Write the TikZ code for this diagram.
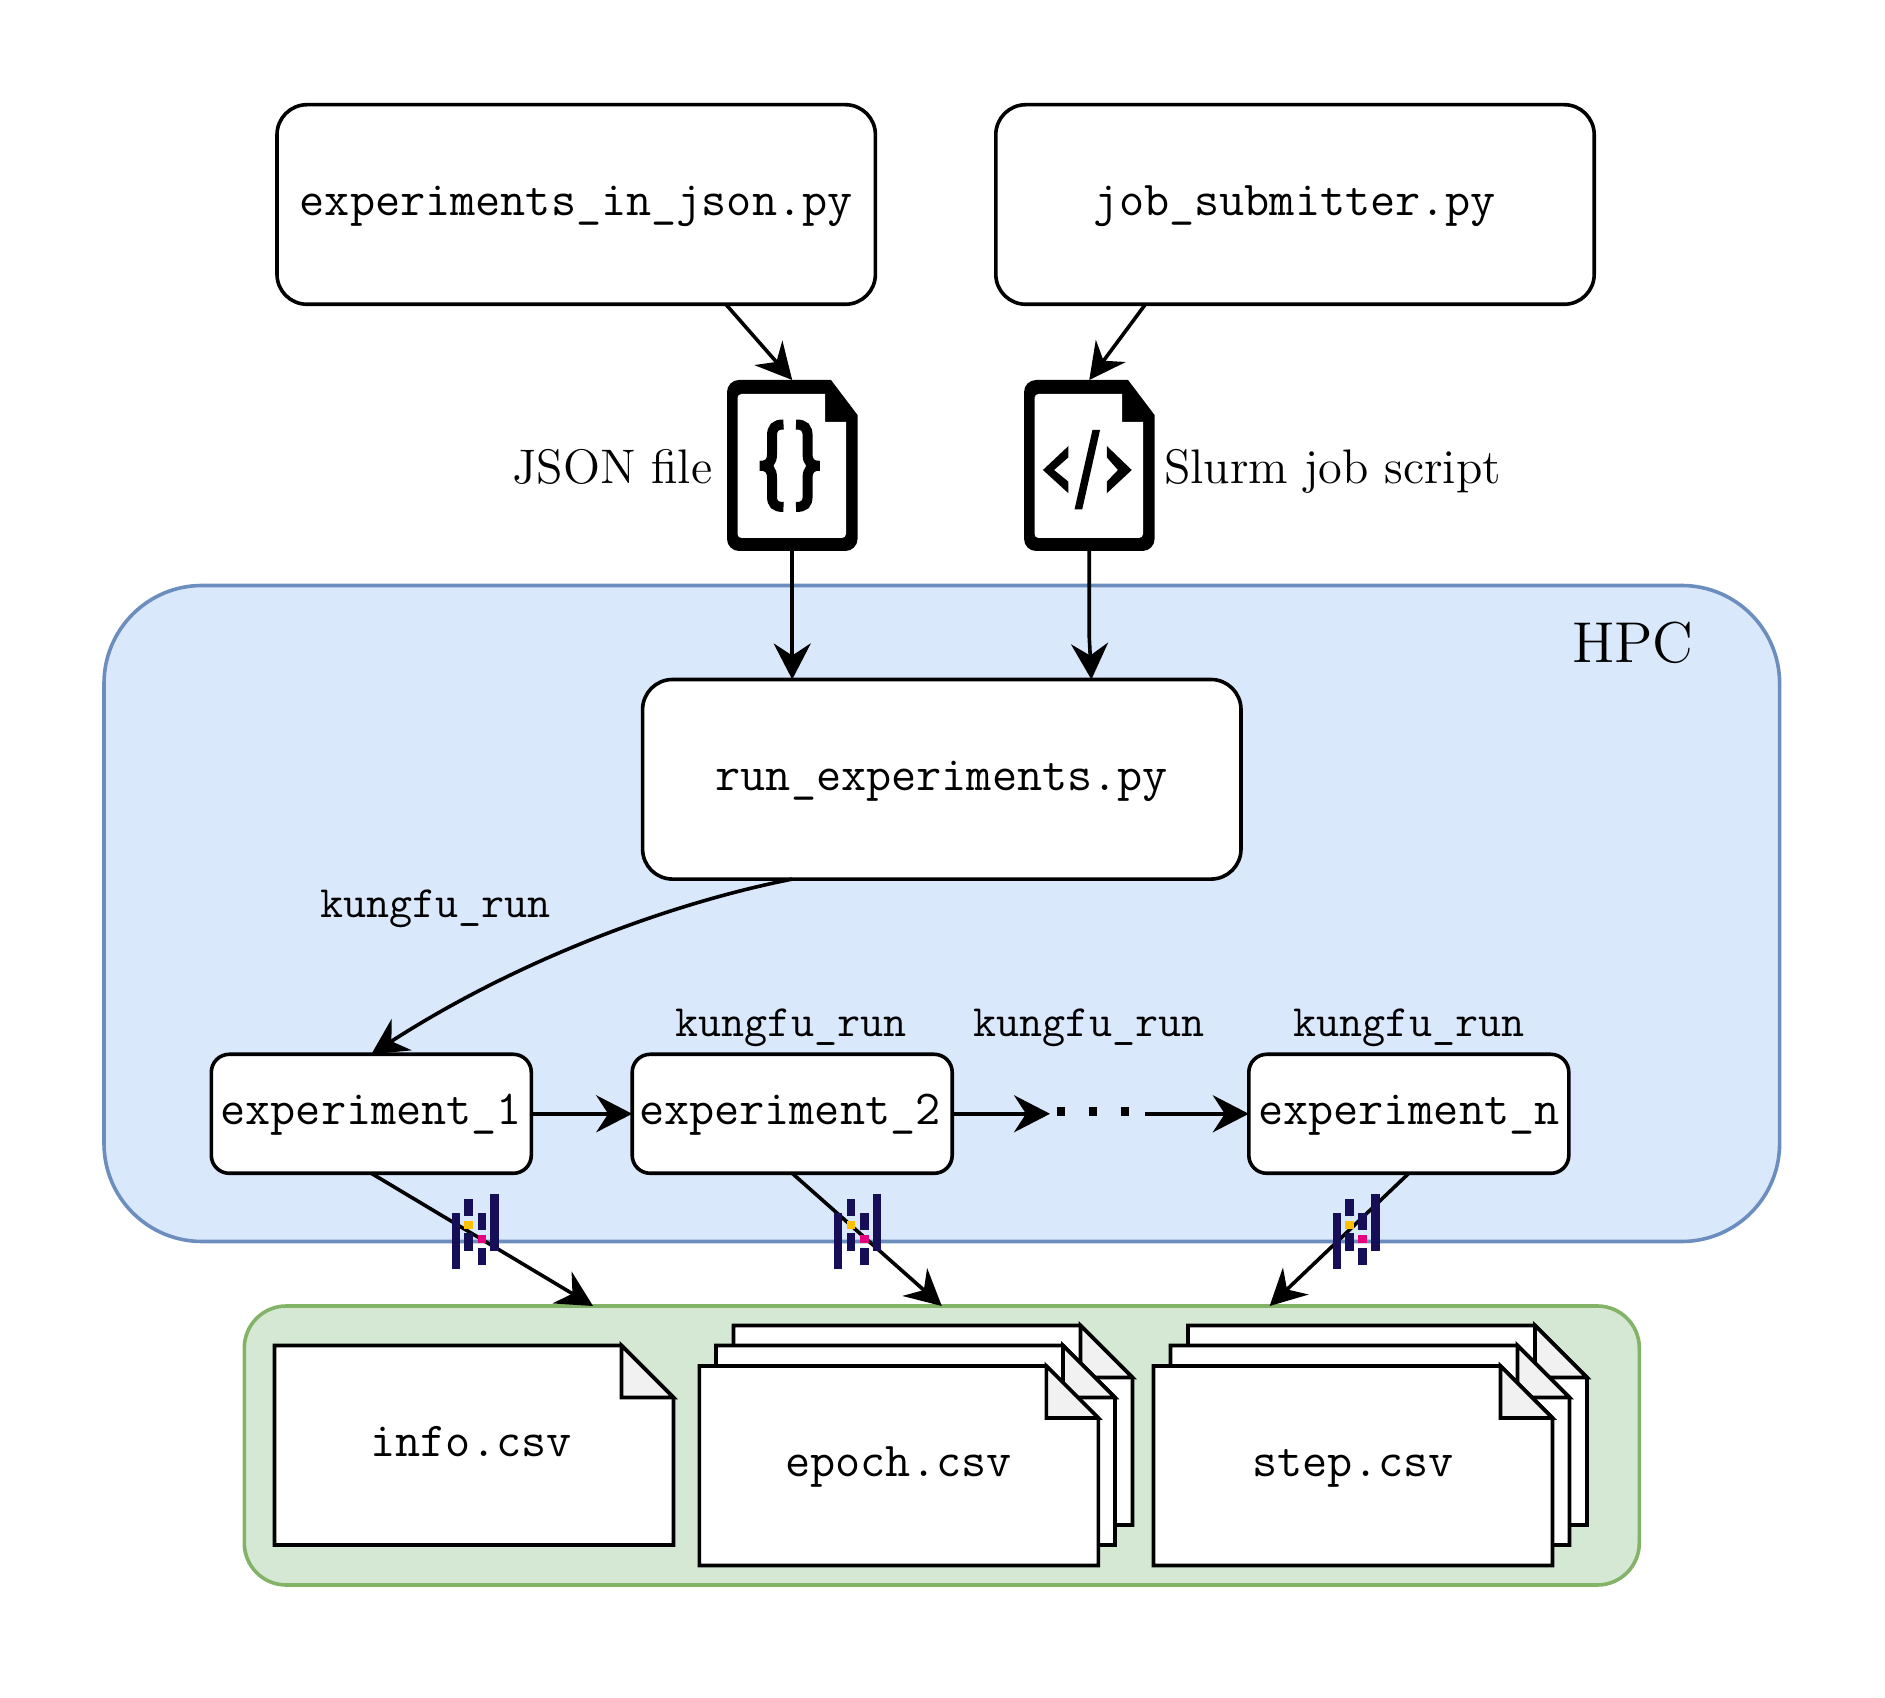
\documentclass[tikz,border=0pt]{standalone}
\usepackage{xcolor}
\usetikzlibrary{arrows.meta, calc, positioning}
\definecolor{hpcfill}{HTML}{DAE8FC}
\definecolor{hpcline}{HTML}{6C8EBF}
\definecolor{csvfill}{HTML}{D5E8D4}
\definecolor{csvline}{HTML}{82B366}
\definecolor{foldgray}{HTML}{F1F1F1}
\definecolor{kfnavy}{HTML}{160F57}
\definecolor{kfyellow}{HTML}{FFC000}
\definecolor{kfpink}{HTML}{E6007E}
\tikzset{
  arr/.style={-{Stealth[length=9pt,width=9.25pt,inset=3pt]},line width=0.9},
  pybox/.style={draw=black,fill=white,line width=0.9,rounded corners=7.5pt,inner sep=0,outer sep=0,
    minimum width=149.6pt,minimum height=49.9pt,font=\fontsize{12.2}{14}\selectfont\ttfamily,
    text height=7.8pt,text depth=2.2pt},
  expbox/.style={draw=black,fill=white,line width=0.9,rounded corners=4.5pt,inner sep=0,outer sep=0,
    minimum width=80pt,minimum height=29.75pt,font=\fontsize{12.2}{14}\selectfont\ttfamily,
    text height=7.8pt,text depth=2.2pt},
  iconbox/.style={inner sep=0,outer sep=0,minimum width=32.6pt,minimum height=42.75pt},
  runlabel/.style={font=\fontsize{11.2}{13}\selectfont\ttfamily,text height=6pt,text depth=2.75pt},
  filetext/.style={font=\fontsize{12.2}{14}\selectfont\ttfamily,text height=8pt,text depth=2pt},
  plainlabel/.style={font=\fontsize{12.13}{14}\selectfont,inner sep=0,text height=9pt,text depth=0.2pt},
  csvnote/.pic={
    \draw[fill=white,line width=0.9] (0,0) -- (347,0) -- (399,52) -- (399,199.5) -- (0,199.5) -- cycle;
    \draw[fill=foldgray,line width=0.9] (347,0) -- (399,52) -- (347,52) -- cycle;
  },
  jsonicon/.pic={
    \fill[rounded corners=3pt] (0,85) -- (0,0) [sharp corners] -- (104,0) -- (130.5,35) [rounded corners=3pt] -- (130.5,171) -- (0,171) -- cycle;
    \fill[white,rounded corners=1pt] (10.5,85) -- (10.5,14) [sharp corners] -- (98,14) -- (98,42) -- (119,42) [rounded corners=1pt] -- (119,158) -- (10.5,158) -- cycle;
  },
  kflogo/.pic={
    \fill[kfnavy] (0,18.7) rectangle (7.8,75.3);
    \fill[kfnavy] (12.5,4.7) rectangle (21,21.7);
    \fill[kfyellow] (12.5,26.7) rectangle (21,35);
    \fill[kfnavy] (12.5,39.3) rectangle (21,56.7);
    \fill[kfnavy] (25.7,18.7) rectangle (34.2,35.7);
    \fill[kfpink] (25.7,41) rectangle (34.2,49);
    \fill[kfnavy] (25.7,54) rectangle (34.2,71);
    \fill[kfnavy] (38.6,0) rectangle (46.8,56.7);
  }
}

\begin{document}
\begin{tikzpicture}[x=0.25pt,y=-0.25pt]
  \useasboundingbox (0,0) rectangle (1885,1698);
  % backgrounds
  \node[draw=hpcline,fill=hpcfill,line width=0.9,rounded corners=24.5pt,inner sep=0,outer sep=0,
    minimum width=418.9pt,minimum height=164pt] (hpc) at (941.8,913.5) {};
  \node[draw=csvline,fill=csvfill,line width=0.9,rounded corners=10.5pt,inner sep=0,outer sep=0,
    minimum width=348.75pt,minimum height=69.75pt] (csvbox) at (941.8,1445.5) {};
  \node[font=\fontsize{14.4}{16}\selectfont] (hpclabel) at (1633,643) {HPC};

  % scripts
  \node[pybox] (jsongen) at (576.2,204.5) {experiments\_in\_json.py};
  \node[pybox] (submitter) at (1295,204.5) {job\_submitter.py};
  \node[pybox] (runner) at (941.8,779.3) {run\_experiments.py};

  % icons
  \node[iconbox] (jsonfile) at (792.2,465.5) {};
  \node[iconbox] (slurmfile) at (1089.25,465.5) {};
  \pic at (jsonfile.north west) {jsonicon};
  \pic at (slurmfile.north west) {jsonicon};
  \begin{scope}[shift={(jsonfile.north west)}]
    \draw[line width=2.5pt] (56.5,44.5) .. controls (48,44.5) and (45,48) .. (45,56) -- (45,74) .. controls (45,82) and (42,85.8) .. (33,85.8) .. controls (42,85.8) and (45,90) .. (45,98) -- (45,116) .. controls (45,124) and (48,127) .. (56.5,127);
    \draw[line width=2.5pt] (69,44.5) .. controls (77.6,44.5) and (80.6,48) .. (80.6,56) -- (80.6,74) .. controls (80.6,82) and (83.6,85.8) .. (92.6,85.8) .. controls (83.6,85.8) and (80.6,90) .. (80.6,98) -- (80.6,116) .. controls (80.6,124) and (77.6,127) .. (69,127);
  \end{scope}
  \begin{scope}[shift={(slurmfile.north west)}]
    \fill (44.4,66) -- (18.9,90) -- (44.4,113.3) -- (44.4,101.7) -- (30,90) -- (44.4,77.3) -- cycle;
    \fill (82.7,66) -- (107.7,90) -- (82.7,113.3) -- (82.7,101.7) -- (93.9,90) -- (82.7,77.3) -- cycle;
    \fill (68.4,50) -- (76,50) -- (58.2,129.3) -- (50.5,129.3) -- cycle;
  \end{scope}
  \node[plainlabel,left=3.5pt of jsonfile] (jsonlabel) {JSON file};
  \node[plainlabel,right=2.25pt of slurmfile] (slurmlabel) {Slurm job script};

  % experiments
  \node[expbox] (exp1) at (371.3,1113.8) {experiment\_1};
  \node[expbox] (exp2) at (792.2,1113.8) {experiment\_2\kern1.2pt};
  \node[expbox] (expn) at (1408.8,1113.8) {experiment\_n};
  \node[inner sep=0,outer sep=0,minimum width=23.75pt,minimum height=4pt] (dots) at (1097.5,1113.8) {};
  \foreach \dotx in {1061,1093,1125}
    \fill (\dotx-4,1107) rectangle (\dotx+4,1116);
  \node[runlabel] (kf1) at (435.5,911) {kungfu\_run};
  \node[runlabel] (kf2) at (791,1030) {kungfu\_run};
  \node[runlabel] (kf3) at (1089,1030) {kungfu\_run};
  \node[runlabel] (kfn) at (1409,1030) {kungfu\_run};

  % csv files
  \pic at (274.5,1345.5) {csvnote};
  \pic at (733.5,1325.5) {csvnote};
  \pic at (716,1345.5) {csvnote};
  \pic at (699.3,1366) {csvnote};
  \pic at (1188,1325.5) {csvnote};
  \pic at (1170.5,1345.5) {csvnote};
  \pic at (1153.5,1366) {csvnote};
  \node[filetext] (infocsv) at (471,1444.6) {info.csv};
  \node[filetext] (epochcsv) at (898.5,1464.2) {epoch.csv};
  \node[filetext] (stepcsv) at (1353,1464.2) {step.csv};

  % connectors
  \coordinate (slurmbend) at (1089.25,637);
  \draw[arr] ($(jsongen.south west)!.75!(jsongen.south east)$) -- (jsonfile.north);
  \draw[arr] ($(submitter.south west)!.25!(submitter.south east)$) -- (slurmfile.north);
  \draw[arr] (jsonfile.south) -- ($(runner.north west)!.25!(runner.north east)$);
  \draw[arr] (slurmfile.south) -- (slurmbend) -- ($(runner.north west)!.75!(runner.north east)$);
  \draw[arr] ($(runner.south west)!.25!(runner.south east)$) .. controls (662,905) and (511,964) .. (exp1.north);
  \draw[arr] (exp1.east) -- (exp2.west);
  \draw[arr] (exp2.east) -- (dots.west);
  \draw[arr] (dots.east) -- (expn.west);
  \draw[arr] (exp1.south) -- ($(csvbox.north west)!.25!(csvbox.north east)$);
  \draw[arr] (exp2.south) -- (csvbox.north);
  \draw[arr] (expn.south) -- ($(csvbox.north west)!.735!(csvbox.north east)$);

  % kungfu logos
  \pic at (451.8,1194) {kflogo};
  \pic at (834.3,1194) {kflogo};
  \pic at (1332.7,1194) {kflogo};
\end{tikzpicture}
\end{document}
